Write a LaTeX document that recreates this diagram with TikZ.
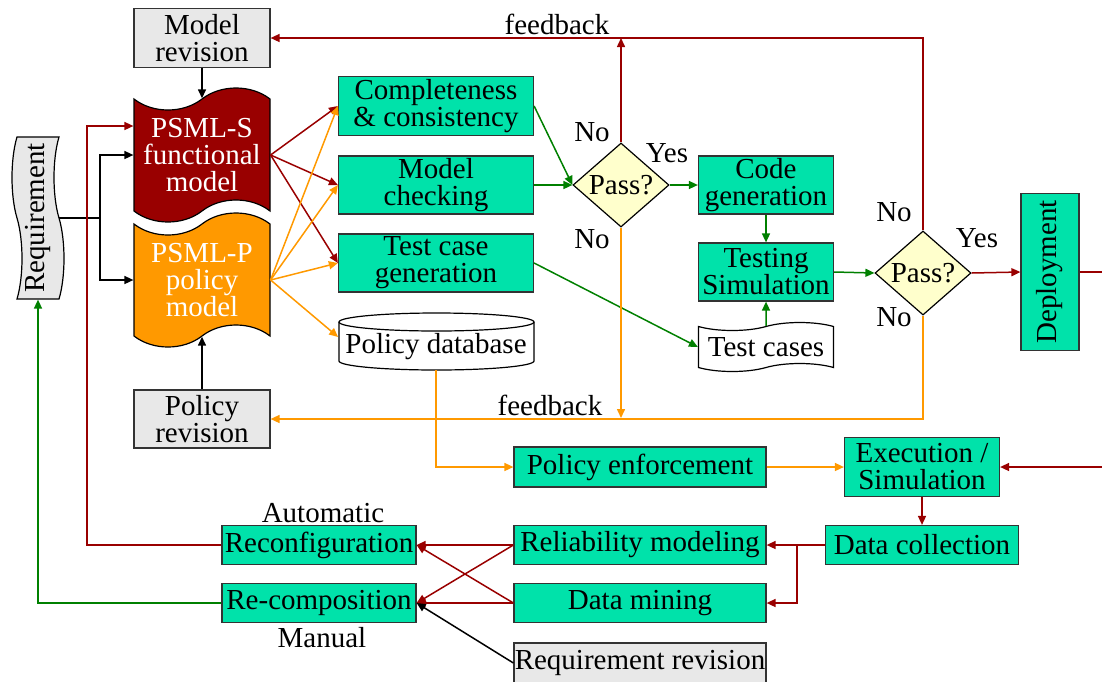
\documentclass[tikz,border=0pt]{standalone}
\usepackage{fontspec}
\setmainfont{Liberation Serif}
\usetikzlibrary{shapes.geometric,shapes.symbols,arrows.meta}

\definecolor{darkred}{RGB}{153,0,0}
\definecolor{orng}{RGB}{255,153,0}
\definecolor{dgreen}{RGB}{0,128,0}
\definecolor{mint}{RGB}{0,226,170}
\definecolor{lgray}{RGB}{232,232,232}
\definecolor{lyellow}{RGB}{255,255,204}

\tikzstyle{every node}=[font=\fontsize{14.5}{13.5}\selectfont, align=center, inner sep=0pt]
\tikzstyle{proc}=[rectangle, draw=black!80, fill=mint, line width=0.6pt]
\tikzstyle{rev}=[rectangle, draw=black!80, fill=lgray, line width=0.6pt]
\tikzstyle{doc}=[tape, draw=black, line width=0.6pt]
\tikzstyle{pass}=[diamond, draw=black, fill=lyellow, line width=0.6pt, minimum width=48pt, minimum height=38.5pt]
\tikzstyle{arr}=[-{Triangle[length=4.5pt,width=4pt]}, line width=0.75pt]

\begin{document}
\begin{tikzpicture}[x=0.5pt,y=-0.5pt]
\useasboundingbox (0,0) rectangle (1102,681);

\node [doc, fill=darkred, text=white, minimum width=68pt, minimum height=67pt, tape bend height=11pt] (psmls) at (202,155) {PSML-S\\functional\\model};
\node [doc, fill=orng, text=white, minimum width=68pt, minimum height=67pt, tape bend height=11pt, below of=psmls, node distance=62.5pt] (psmlp) {PSML-P\\policy\\model};
\node [rev, minimum width=68pt, minimum height=29.5pt] (mrev) at (202,38) {Model\\revision};
\node [rev, minimum width=68pt, minimum height=29pt] (prev) at (202,419) {Policy\\revision};
\node [doc, fill=lgray, rotate=90, minimum width=81pt, minimum height=26pt, tape bend height=5pt] (req) at (38,218) {Requirement};

\node [proc, minimum width=97.5pt, minimum height=29.5pt] (comp) at (436,106) {Completeness\\\& consistency};
\node [proc, minimum width=97.5pt, minimum height=29pt, below of=comp, node distance=39.5pt] (mc) {Model\\checking};
\node [proc, minimum width=97.5pt, minimum height=29pt, below of=mc, node distance=39pt] (tcg) {Test case\\generation};
\draw [line width=0.6pt, fill=white] (339,322) -- (339,361) arc[start angle=180, end angle=360, x radius=48.75pt, y radius=4.5pt]
	-- (534,322) arc[start angle=0, end angle=180, x radius=48.75pt, y radius=4.5pt] -- cycle;
\draw [line width=0.6pt] (339,322) arc[start angle=180, end angle=360, x radius=48.75pt, y radius=4.5pt];
\node [rectangle, minimum width=97.5pt, minimum height=23pt] (pdb) at (436,347) {Policy database};

\node [pass] (pass1) at (621,185) {Pass?};
\node [proc, minimum width=67.5pt, minimum height=29pt] (codegen) at (766,185) {Code\\generation};
\node [proc, minimum width=67.5pt, minimum height=29pt, below of=codegen, node distance=43.5pt] (testsim) {Testing\\Simulation};
\node [doc, minimum width=67.5pt, minimum height=24.5pt, tape bend height=4pt] (testcases) at (766,347) {Test cases};
\node [pass] (pass2) at (923,273) {Pass?};
\node [proc, rotate=90, minimum width=78.5pt, minimum height=29pt] (deploy) at (1050,272) {Deployment};

\node [proc, minimum width=126pt, minimum height=20pt] (polenf) at (640,467) {Policy enforcement};
\node [proc, minimum width=77.5pt, minimum height=29.5pt] (exec) at (922,467) {Execution /\\Simulation};
\node [proc, minimum width=96.5pt, minimum height=19.5pt] (datacoll) at (922,545) {Data collection};
\node [proc, minimum width=126pt, minimum height=19.5pt] (relmod) at (640,545) {Reliability modeling};
\node [proc, minimum width=126pt, minimum height=19.5pt, below of=relmod, node distance=29pt] (dmine) {Data mining};
\node [rev, minimum width=126pt, minimum height=20pt, below of=dmine, node distance=30pt] (reqrev) {Requirement revision};
\node [proc, minimum width=97pt, minimum height=19.5pt] (reconf) at (319,545) {Reconfiguration};
\node [proc, minimum width=97pt, minimum height=19.5pt, below of=reconf, node distance=29pt] (recomp) {Re-composition};

\node (fb1) at (557,24) {feedback};
\node (fb2) at (550,405) {feedback};
\node (no1) at (592,132) {No};
\node (yes1) at (667,153) {Yes};
\node (no2) at (592,239) {No};
\node (no3) at (894,212) {No};
\node (yes2) at (977,238) {Yes};
\node (no4) at (894,317) {No};
\node (auto) at (323,513) {Automatic};
\node (manual) at (322,638) {Manual};

\coordinate (jr) at (100,218);
\coordinate (rc) at (87,545);
\coordinate (top1) at (621,38);
\coordinate (bot1) at (621,418);
\coordinate (jd) at (797,545);
\coordinate (outdep) at (1102,272);
\coordinate (inexec) at (1102,467);

\draw [line width=0.75pt] (req.south) -- (jr);
\draw [arr] (jr) |- (psmls.west);
\draw [arr] (jr) |- (psmlp.west);
\draw [arr] (mrev) -- (psmls.north);
\draw [arr] (prev) -- (psmlp.south);

\path [arr, darkred] (psmls.east) edge (comp.west) (psmls.east) edge (mc.west) (psmls.east) edge (tcg.west);
\path [arr, orng] (psmlp.east) edge (comp.west) (psmlp.east) edge (mc.west) (psmlp.east) edge (tcg.west)
			(psmlp.east) edge ([yshift=5pt]pdb.west);

\path [arr, dgreen] (comp.east) edge (pass1.west) (mc.east) edge (pass1.west) (pass1.east) edge (codegen.west)
			(codegen) edge (testsim) (testcases) edge (testsim) (tcg.east) edge (testcases.west)
			(testsim.east) edge (pass2.west);

\draw [arr, darkred] (pass1.north) -- (top1);
\draw [arr, darkred] (pass2.north) |- (mrev.east);
\draw [arr, orng] (pass1.south) -- (bot1);
\draw [arr, orng] (pass2.south) |- (prev.east);
\draw [arr, darkred] (pass2.east) -- (deploy.north);
\draw [line width=0.75pt, darkred] (deploy.south) -- (outdep);

\draw [arr, orng] (pdb.south) |- (polenf.west);
\draw [arr, orng] (polenf) -- (exec);
\draw [arr, darkred] (inexec) -- (exec.east);
\draw [arr, darkred] (exec) -- (datacoll);
\draw [arr, darkred] (datacoll) -- (relmod);
\draw [arr, darkred] (jd) |- (dmine.east);

\path [arr, darkred] (relmod.west) edge (reconf.east) (relmod.west) edge (recomp.east)
			(dmine.west) edge (reconf.east) (dmine.west) edge (recomp.east);
\draw [arr] (reqrev.west) -- (recomp.east);

\draw [arr, darkred] (reconf.west) -- (rc) |- ([yshift=14.5pt]psmls.west);
\draw [arr, dgreen] (recomp.west) -| (req.west);
\end{tikzpicture}
\end{document}
